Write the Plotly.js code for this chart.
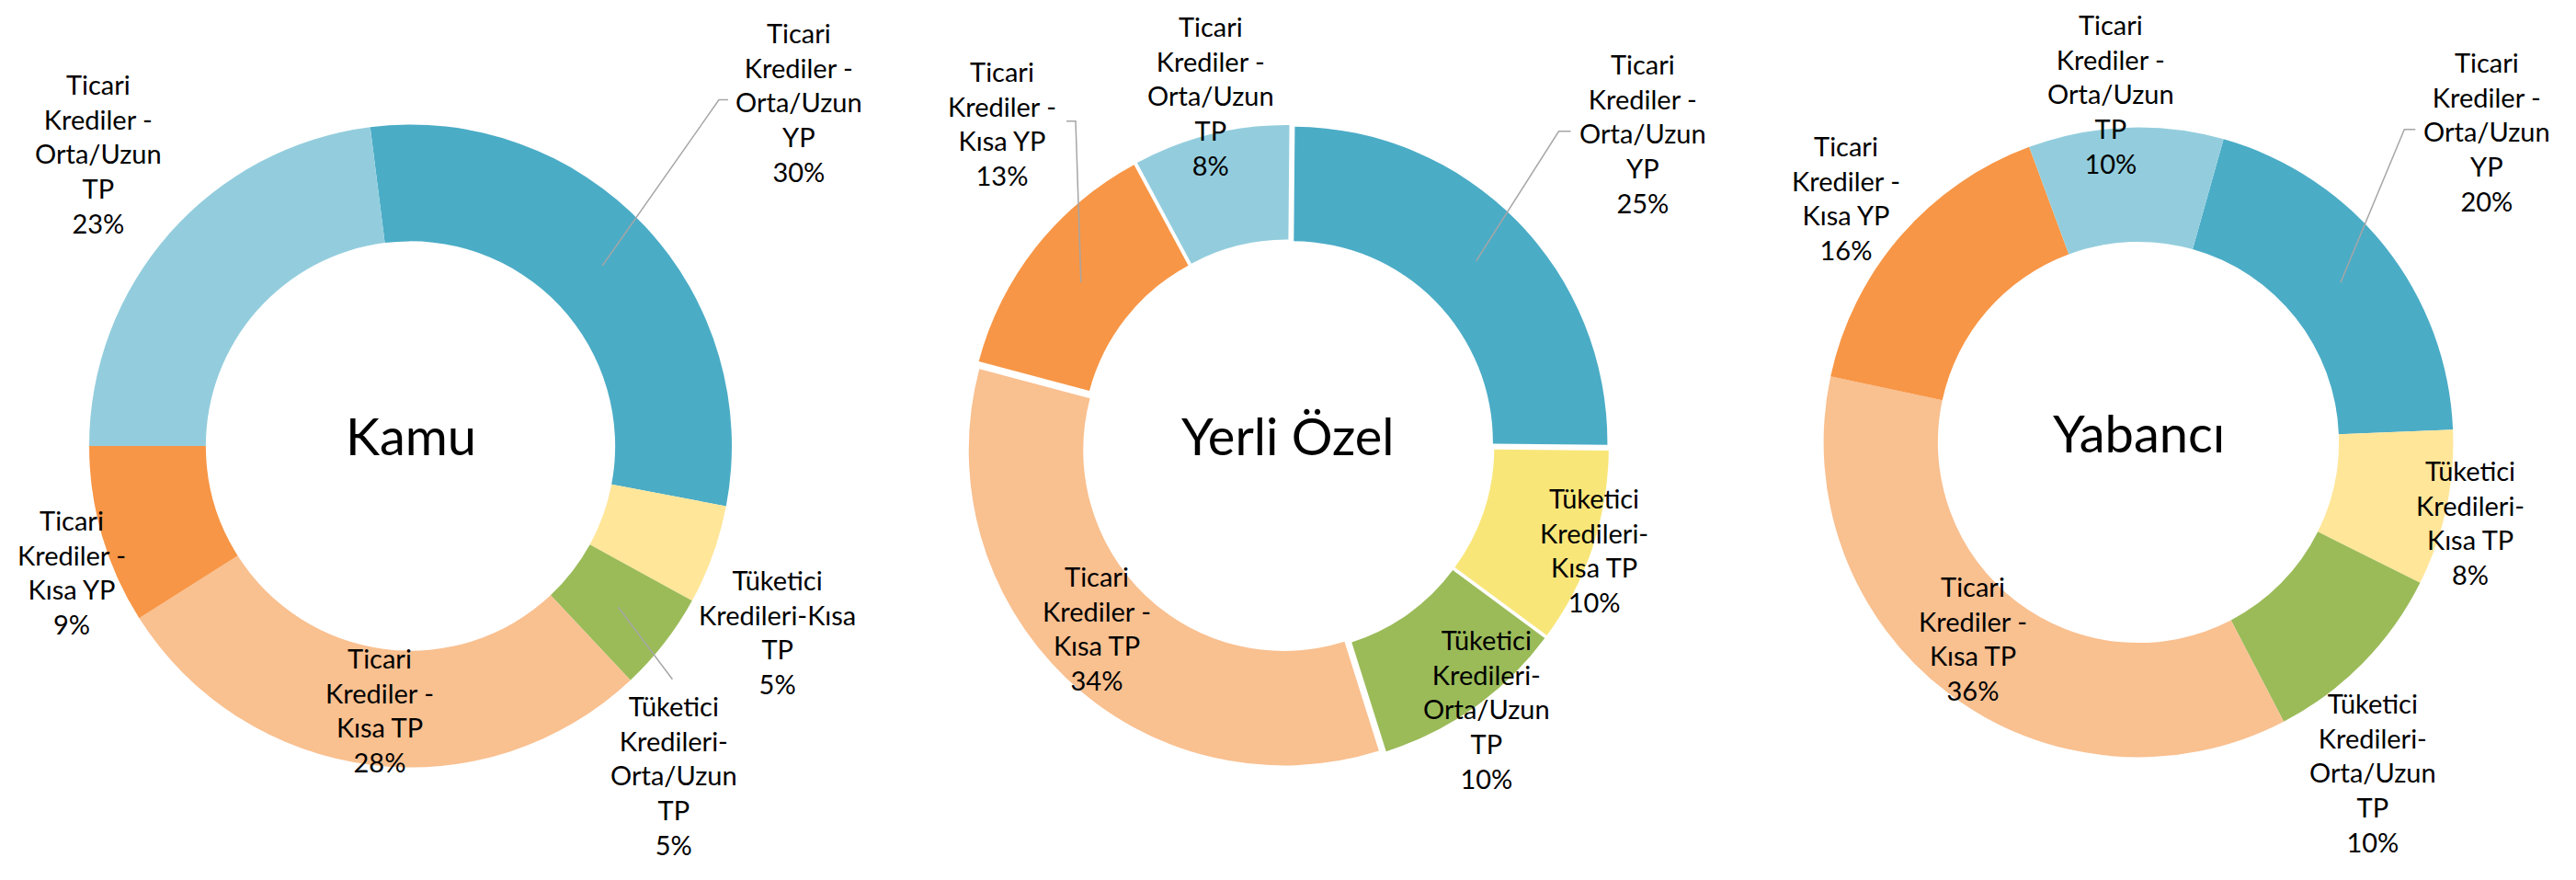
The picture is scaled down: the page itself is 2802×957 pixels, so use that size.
<!DOCTYPE html>
<html>
<head>
<meta charset="utf-8">
<script src="https://cdn.plot.ly/plotly-3.0.1.min.js"></script>
<style>
  html, body { margin: 0; padding: 0; background: #ffffff; }
  #chart { width: 2802px; height: 957px; }
</style>
</head>
<body>
<div id="chart"></div>
<script>
// ---------------- DATA ----------------
const categories = [
  "Ticari Krediler - Orta/Uzun YP",
  "Tüketici Kredileri-Kısa TP",
  "Tüketici Kredileri-Orta/Uzun TP",
  "Ticari Krediler - Kısa TP",
  "Ticari Krediler - Kısa YP",
  "Ticari Krediler - Orta/Uzun TP"
];
const chartNames = ["Kamu", "Yerli Özel", "Yabancı"];

const kamuValues      = [30, 5, 5, 28, 9, 23];
const yerliOzelValues = [25, 10, 10, 34, 13, 8];
const yabanciValues   = [20, 8, 10, 36, 16, 10];

// wrapped label text, as shown in the chart (same category names)
const kamuLabelLines = [
  "Ticari<br>Krediler -<br>Orta/Uzun<br>YP",
  "Tüketici<br>Kredileri-Kısa<br>TP",
  "Tüketici<br>Kredileri-<br>Orta/Uzun<br>TP",
  "Ticari<br>Krediler -<br>Kısa TP",
  "Ticari<br>Krediler -<br>Kısa YP",
  "Ticari<br>Krediler -<br>Orta/Uzun<br>TP"
];
const yerliOzelLabelLines = [
  "Ticari<br>Krediler -<br>Orta/Uzun<br>YP",
  "Tüketici<br>Kredileri-<br>Kısa TP",
  "Tüketici<br>Kredileri-<br>Orta/Uzun<br>TP",
  "Ticari<br>Krediler -<br>Kısa TP",
  "Ticari<br>Krediler -<br>Kısa YP",
  "Ticari<br>Krediler -<br>Orta/Uzun<br>TP"
];
const yabanciLabelLines = yerliOzelLabelLines;

// ---------------- STYLE / LAYOUT ----------------
const W = 2802, H = 957;
const FONT = "Lato, 'Open Sans', sans-serif";
const colorsStd   = ["#4BACC6", "#FFE699", "#9BBB59", "#F9C090", "#F79646", "#93CDDD"];
const colorsYerli = ["#4BACC6", "#F9E679", "#9BBB59", "#F9C090", "#F79646", "#93CDDD"];

// pie geometry in pixels (center, outer radius), rotation = start angle of first slice
const pies = [
  { name: chartNames[0], values: kamuValues, lines: kamuLabelLines, colors: colorsStd,
    cx: 446.5, cy: 485, r: 349.5, pull: 0, rotation: -7.2,
    labelOff: [[422.5,-374.4],[398.5,202],[286.1,357.7],[-34,287],[-368.5,137.4],[-339.5,-318.4]],
    leaders: { 0: [[-77,-2],[-87,-2]], 2: [[-1.2,-104]] } },
  { name: chartNames[1], values: yerliOzelValues, lines: yerliOzelLabelLines, colors: colorsYerli,
    cx: 1401, cy: 485, r: 343, pull: 0.018, rotation: 0.5,
    labelOff: [[385.5,-340.2],[333.4,113.3],[216.5,286.3],[-208,197.8],[-311,-351.3],[-84.5,-380.9]],
    leaders: { 0: [[-78,-2],[-91,-2]], 4: [[70,-2],[80,-2]] } },
  { name: chartNames[2], values: yabanciValues, lines: yabanciLabelLines, colors: colorsStd,
    cx: 2326, cy: 481, r: 342.4, pull: 0, rotation: 15.7,
    labelOff: [[379.3,-338.3],[361.3,86.6],[254.6,359.3],[-180,213.1],[-318.5,-266.1],[-30.1,-379.2]],
    leaders: { 0: [[-78,-2],[-90,-2]] } }
];
const HOLE = 0.637;

const px2x = x => x / W;
const px2y = y => 1 - y / H;

const traces = [];
const annotations = [];
const shapes = [];

pies.forEach(p => {
  const R = p.r * (1 + p.pull);
  traces.push({
    type: "pie",
    labels: categories,
    values: p.values,
    sort: false,
    direction: "clockwise",
    rotation: p.rotation,
    hole: HOLE,
    pull: p.pull,
    domain: { x: [px2x(p.cx - R), px2x(p.cx + R)], y: [px2y(p.cy + R), px2y(p.cy - R)] },
    marker: { colors: p.colors, line: { width: 0 } },
    textinfo: "none",
    hoverinfo: "label+percent",
    showlegend: false
  });

  // center title
  annotations.push({
    xref: "paper", yref: "paper", x: px2x(p.cx), y: px2y(p.cy - 11),
    xanchor: "center", yanchor: "middle", showarrow: false,
    text: p.name, font: { family: FONT, size: 56, color: "#000000" }
  });

  const total = p.values.reduce((a, b) => a + b, 0);
  let acc = 0;
  p.values.forEach((v, i) => {
    const pct = Math.round(v / total * 100) + "%";
    const lx = p.cx + p.labelOff[i][0];
    const ly = p.cy + p.labelOff[i][1];
    annotations.push({
      xref: "paper", yref: "paper", x: px2x(lx), y: px2y(ly),
      xanchor: "center", yanchor: "middle", align: "center", showarrow: false,
      text: p.lines[i] + "<br>" + pct,
      font: { family: FONT, size: 29, color: "#000000" }
    });
    // leader line: from label to middle of ring at slice mid-angle
    const midDeg = p.rotation + (acc + v / 2) / total * 360;
    acc += v;
    if (p.leaders[i]) {
      const a = midDeg * Math.PI / 180;
      const rm = p.r * (1 + HOLE) / 2;
      const shift = p.pull * p.r;
      const ex = p.cx + (rm + shift) * Math.sin(a);
      const ey = p.cy - (rm + shift) * Math.cos(a);
      const pts = p.leaders[i].map(o => [lx + o[0], ly + o[1]]);
      pts.push([ex, ey]);
      const path = pts.map((q, k) => (k ? "L" : "M") + px2x(q[0]) + "," + px2y(q[1])).join(" ");
      shapes.push({
        type: "path", xref: "paper", yref: "paper", path: path,
        line: { color: "#A6A6A6", width: 1.5 }
      });
    }
  });
});

const layout = {
  width: W, height: H,
  margin: { l: 0, r: 0, t: 0, b: 0 },
  paper_bgcolor: "#ffffff",
  plot_bgcolor: "#ffffff",
  showlegend: false,
  annotations: annotations,
  shapes: shapes,
  font: { family: FONT }
};

Plotly.newPlot("chart", traces, layout, { displayModeBar: false, staticPlot: false });
</script>
</body>
</html>
